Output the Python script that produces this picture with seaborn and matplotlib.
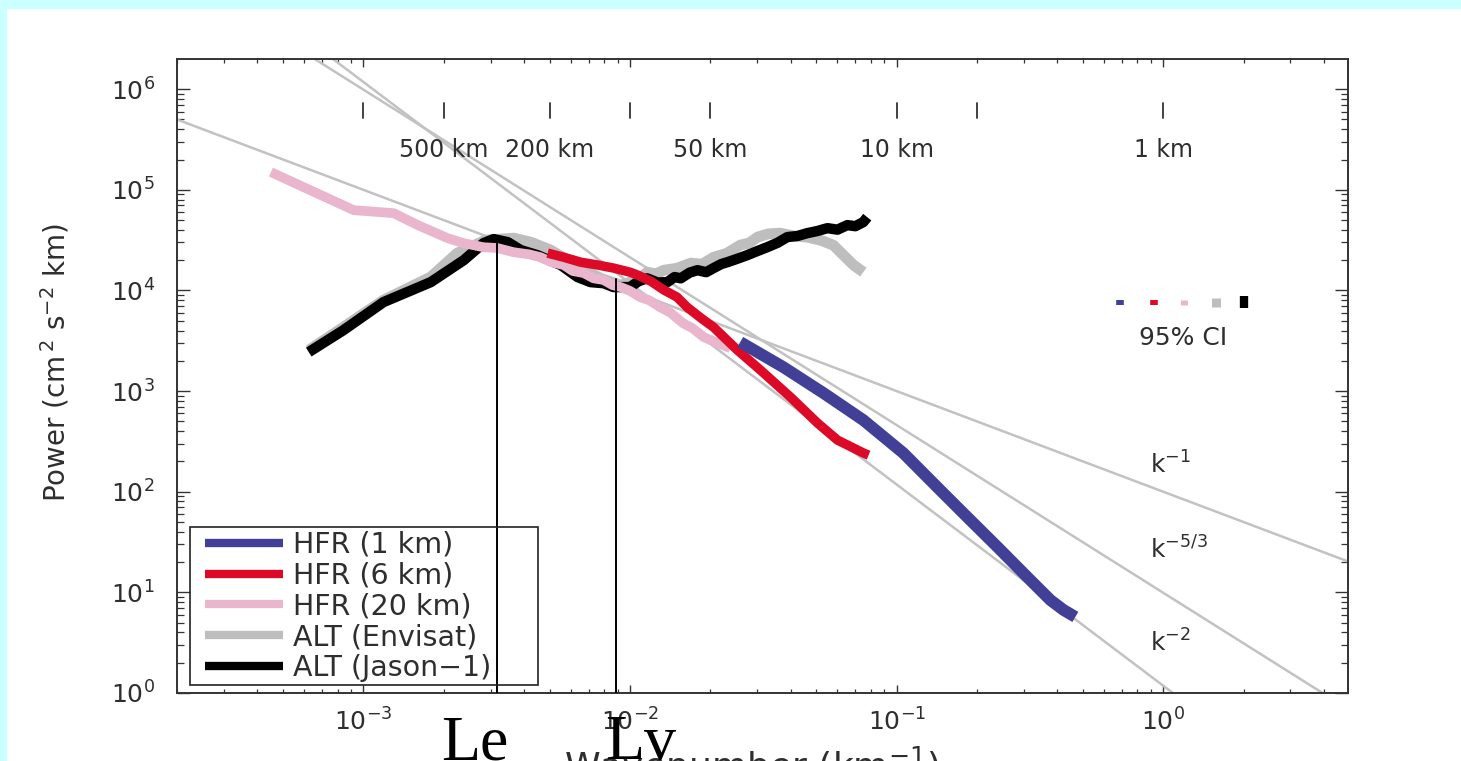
import numpy as np
import pandas as pd
import matplotlib
matplotlib.use("Agg")
import matplotlib.pyplot as plt
import matplotlib.transforms as mtransforms
from matplotlib.patches import Rectangle
from matplotlib.ticker import LogLocator, NullFormatter
import seaborn as sns

# ---- spectra: wavenumber k (km^-1) and power (cm^2 s^-2 km) ----
hfr1_k = [0.0259, 0.0376, 0.0532, 0.0750, 0.106, 0.142, 0.184, 0.239, 0.309, 0.377, 0.422, 0.468]
hfr1_p = [3070, 1730, 955, 515, 242, 111, 56, 28.2, 14.2, 8.4, 6.7, 5.7]

hfr6_k = [0.00491, 0.00564, 0.00653, 0.00757, 0.00867, 0.0100, 0.0107, 0.0120, 0.0134,
          0.0150, 0.0164, 0.0185, 0.0206, 0.0253, 0.0309, 0.0400, 0.0505, 0.0600, 0.0752, 0.0785]
hfr6_p = [23500, 21400, 19100, 17900, 16700, 15200, 14200, 12300, 10100,
          8600, 6800, 5300, 4300, 2550, 1610, 871, 481, 326, 242, 231]

hfr20_k = [0.00045, 0.00092, 0.00130, 0.00160, 0.00207, 0.00238, 0.00282, 0.00318, 0.00366,
           0.00420, 0.00462, 0.00510, 0.00564, 0.00610, 0.00670, 0.00730, 0.00796, 0.00860,
           0.00923, 0.0100, 0.0109, 0.0118, 0.0130, 0.0142, 0.0158, 0.0172, 0.0189, 0.0210, 0.0238]
hfr20_p = [150000, 62800, 58600, 44600, 33100, 29500, 26900, 26400, 24000,
           22800, 21400, 19000, 17900, 15600, 14900, 13200, 12700, 11300,
           10800, 9900, 8600, 8000, 6800, 6000, 4730, 4200, 3440, 3050, 2670]

envisat_k = [0.000624, 0.000843, 0.00119, 0.00179, 0.00225, 0.00287, 0.00366, 0.00424, 0.00504,
             0.00625, 0.00776, 0.00923, 0.0108, 0.0116, 0.0125, 0.0134, 0.0150, 0.0169, 0.0186,
             0.0206, 0.0230, 0.0259, 0.0280, 0.0301, 0.0330, 0.0366, 0.0410, 0.0462, 0.0518,
             0.0579, 0.0632, 0.0689, 0.0750]
envisat_p = [2550, 4330, 8020, 13600, 23500, 31600, 33100, 30200, 25200,
             17900, 13200, 11300, 12900, 15200, 14600, 15900, 16600, 18700, 18200,
             21400, 23300, 28200, 29600, 33900, 36500, 37100, 34800, 33900, 31600,
             28200, 22400, 17900, 15200]

jason_k = [0.000624, 0.000843, 0.00119, 0.00179, 0.00238, 0.00282, 0.00308, 0.00348, 0.00389,
           0.00450, 0.00550, 0.00635, 0.00711, 0.00796, 0.00867, 0.0100, 0.0108, 0.0116,
           0.0127, 0.0138, 0.0147, 0.0155, 0.0167, 0.0179, 0.0193, 0.0206, 0.0220, 0.0232,
           0.0252, 0.0275, 0.0300, 0.0327, 0.0358, 0.0389, 0.0425, 0.0462, 0.0505, 0.0550,
           0.0600, 0.0653, 0.0700, 0.0750, 0.0776]
jason_p = [2440, 4040, 7660, 12100, 20000, 29500, 32400, 30200, 25200,
           22400, 17900, 13600, 12100, 11800, 10800, 10800, 12400, 13200,
           12000, 12100, 13600, 13200, 15000, 15900, 15200, 16700, 18300, 19100,
           20600, 22400, 24600, 26900, 29800, 33900, 34800, 37100, 39000, 41600,
           40200, 44600, 43500, 47800, 53500]

# ---- reference power laws P = A k^s ----
ref_slopes = [-1.0, -5.0 / 3.0, -2.0]
ref_amps = [100.0, 9.9, 1.18]
ref_k = [1e-4, 10.0]

# ---- length scales marked along the top (km) ----
km_ticks = [1000, 500, 200, 100, 50, 10, 5, 1]
km_labels = [500, 200, 50, 10, 1]

# ---- 95% confidence intervals ----
ci_k = [0.69, 0.925, 1.20, 1.57, 2.00]
ci_lo = [7230, 7230, 7230, 6910, 6670]
ci_hi = [8110, 8110, 8110, 8500, 8790]

# ---- length scales Le and Lv (wavenumber, top of marker) ----
le_k, le_top = 0.00318, 31500
lv_k, lv_top = 0.00883, 13000

series_names = ["HFR (1 km)", "HFR (6 km)", "HFR (20 km)", "ALT (Envisat)", "ALT (Jason\u22121)"]
series_colors = ["#423f96", "#dd0a27", "#e9b6cd", "#bebebe", "#000000"]

sns.set_style("ticks")
plt.rcParams["font.family"] = ["DejaVu Sans"]
plt.rcParams["mathtext.fontset"] = "dejavusans"
plt.rcParams["axes.unicode_minus"] = True

TXT = "#2e2e2e"

fig = plt.figure(figsize=(14.61, 7.61), dpi=100)
fig.patch.set_facecolor("white")
# light cyan frame strips
fig.patches.append(Rectangle((0, 1 - 8 / 761), 1, 8 / 761, transform=fig.transFigure,
                             color="#ccffff", zorder=0))
fig.patches.append(Rectangle((0, 0), 6 / 1461, 1, transform=fig.transFigure,
                             color="#ccffff", zorder=0))

ax = fig.add_axes([0.12115, 0.08936, 0.80151, 0.83311])
ax.set_xscale("log")
ax.set_yscale("log")

# reference slopes
for s, a in zip(ref_slopes, ref_amps):
    kk = np.array(ref_k)
    ax.plot(kk, a * kk ** s, color="#c2c2c2", lw=1.8, zorder=1, solid_capstyle="butt")

frames = {
    "ALT (Envisat)": (envisat_k, envisat_p, 7.8),
    "ALT (Jason\u22121)": (jason_k, jason_p, 7.5),
    "HFR (20 km)": (hfr20_k, hfr20_p, 7.0),
    "HFR (6 km)": (hfr6_k, hfr6_p, 6.8),
    "HFR (1 km)": (hfr1_k, hfr1_p, 8.5),
}
color_of = dict(zip(series_names, series_colors))
z = 2
for name, (kv, pv, lw) in frames.items():
    df = pd.DataFrame({"k": kv, "P": pv})
    sns.lineplot(data=df, x="k", y="P", ax=ax, color=color_of[name], lw=lw,
                 label=name, sort=False, estimator=None, zorder=z,
                 solid_capstyle="butt", solid_joinstyle="round")
    z += 1

# Le / Lv markers
ax.plot([le_k, le_k], [0.5, le_top], color="black", lw=1.4, zorder=9)
ax.plot([lv_k, lv_k], [0.5, lv_top], color="black", lw=1.4, zorder=9)

# confidence bars
ci_w = [5.5, 5.5, 5.0, 6.5, 6.0]
for kx, lo, hi, c, w in zip(ci_k, ci_lo, ci_hi, series_colors, ci_w):
    ax.plot([kx, kx], [lo, hi], color=c, lw=w, solid_capstyle="butt", zorder=9)
ax.text(1.19, 3360, "95% CI", ha="center", va="center", fontsize=18, color=TXT)

# slope labels
ax.text(0.893, 153, r"k$^{-1}$", fontsize=18, color=TXT, va="baseline", ha="left")
ax.text(0.893, 21.9, r"k$^{-5/3}$", fontsize=18, color=TXT, va="baseline", ha="left")
ax.text(0.893, 2.55, r"k$^{-2}$", fontsize=18, color=TXT, va="baseline", ha="left")

# wavelength scale along the top
blend = mtransforms.blended_transform_factory(ax.transData, ax.transAxes)
for km in km_ticks:
    ax.plot([1.0 / km, 1.0 / km], [0.907, 0.931], transform=blend, color="#333333",
            lw=1.3, zorder=9)
for km in km_labels:
    ax.text(1.0 / km, 0.857, f"{km} km", transform=blend, ha="center", va="center",
            fontsize=17, color=TXT)

ax.set_xlim(2.0e-4, 4.93)
ax.set_ylim(1.0, 10 ** 6.30)

ax.xaxis.set_minor_locator(LogLocator(base=10, subs=np.arange(2, 10)))
ax.yaxis.set_minor_locator(LogLocator(base=10, subs=np.arange(2, 10)))
ax.xaxis.set_minor_formatter(NullFormatter())
ax.yaxis.set_minor_formatter(NullFormatter())

ax.tick_params(axis="x", which="major", direction="in", length=5.8, width=1.0,
               top=True, bottom=True, pad=11, labelsize=18, color="#333333", labelcolor=TXT)
ax.tick_params(axis="x", which="minor", direction="in", length=3.0, width=0.9,
               top=True, bottom=True, color="#333333")
ax.tick_params(axis="y", which="major", direction="in", length=9.4, width=1.0,
               left=True, right=True, pad=16, labelsize=18, color="#333333", labelcolor=TXT)
ax.tick_params(axis="y", which="minor", direction="in", length=5.0, width=0.9,
               left=True, right=True, color="#333333")
for sp in ax.spines.values():
    sp.set_linewidth(1.4)
    sp.set_color("#333333")

ax.set_xlabel("")
ax.set_ylabel("")

# legend in the listed order, with a plain square frame
handles, labels = ax.get_legend_handles_labels()
hmap = dict(zip(labels, handles))
leg = ax.legend([hmap[n] for n in series_names], series_names, loc="upper left",
                bbox_to_anchor=(0.0239, 0.2560), borderaxespad=0, borderpad=0,
                fontsize=20.5, frameon=False, handlelength=2.74, handletextpad=0.35,
                labelspacing=0.1, labelcolor=TXT)
for ln in leg.get_lines():
    ln.set_linewidth(6.0)
ax.add_patch(Rectangle((0.0111, 0.0126), 0.2972, 0.2492, transform=ax.transAxes,
                       fill=False, ec="#222222", lw=1.2, zorder=10))

# axis titles
fig.text(55 / 1461, 1 - 363 / 761, r"Power (cm$^{\,2}$ s$^{-2}$ km)", rotation=90,
         ha="center", va="center", fontsize=20, color=TXT)
fig.text(752 / 1461, 1 - 745 / 761, r"Wavenumber (km$^{-1}$)", ha="center", va="top",
         fontsize=26, color=TXT)

# scale names
fig.text(441 / 1461, 1 - 759 / 761, "Le", family="Liberation Serif", fontsize=46,
         color="black", va="baseline", ha="left")
fig.text(605 / 1461, 1 - 759 / 761, "Lv", family="Liberation Serif", fontsize=46,
         color="black", va="baseline", ha="left")

fig.savefig("out.png", dpi=100)
